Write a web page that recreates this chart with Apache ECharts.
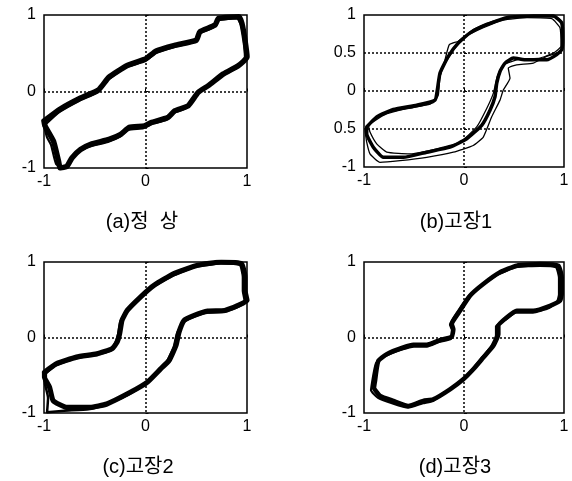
<!DOCTYPE html>
<html>
<head>
<meta charset="utf-8">
<title>hysteresis</title>
<script src="https://cdn.jsdelivr.net/npm/echarts@6/dist/echarts.min.js"></script>
<style>
html, body { margin: 0; padding: 0; background: #fff; }
#chart { width: 572px; height: 481px; }
</style>
</head>
<body>
<div id="chart"></div>
<script>
// 각 그림의 제목
var panelTitles = ['(a)정  상', '(b)고장1', '(c)고장2', '(d)고장3'];
var xTickLabels = ['-1', '0', '1'];
var yTickLabels = ['-1', '0', '1'];
var yTickLabelsB = ['-1', '0.5', '0', '0.5', '1'];

// (a) 정상
var loopA1 = [[-1,-0.385],[-0.84,-0.23],[-0.64,-0.086],[-0.46,0.024],[-0.36,0.187],[-0.18,0.34],[0.005,0.43],[0.105,0.53],[0.287,0.604],[0.5,0.67],[0.535,0.78],[0.685,0.868],[0.72,0.956],[0.92,0.978],[0.95,0.89],[0.98,0.67],[1,0.45],
	[0.917,0.34],[0.768,0.23],[0.619,0.077],[0.519,-0.011],[0.42,-0.187],[0.287,-0.253],[0.22,-0.34],[0.055,-0.407],[-0.01,-0.45],[-0.16,-0.47],[-0.244,-0.56],[-0.36,-0.626],[-0.54,-0.69],[-0.64,-0.758],[-0.725,-0.868],[-0.774,-0.978],[-0.84,-1],[-0.857,-0.91],[-0.907,-0.648],[-0.99,-0.45],[-1,-0.385]];
var loopA2 = [[-1,-0.45],[-0.85,-0.27],[-0.65,-0.12],[-0.47,-0.01],[-0.37,0.15],[-0.2,0.31],[0,0.4],[0.1,0.5],[0.28,0.58],[0.48,0.65],[0.52,0.75],[0.67,0.84],[0.72,0.93],[0.9,0.96],[0.94,0.87],[0.97,0.65],[0.98,0.42],
	[0.9,0.31],[0.75,0.2],[0.6,0.05],[0.5,-0.04],[0.41,-0.21],[0.28,-0.28],[0.21,-0.37],[0.05,-0.43],[-0.02,-0.48],[-0.17,-0.5],[-0.25,-0.59],[-0.37,-0.66],[-0.55,-0.72],[-0.66,-0.79],[-0.74,-0.9],[-0.79,-1],[-0.88,-0.95],[-0.93,-0.7],[-0.97,-0.6],[-1,-0.45]];

// (b) 고장1
var loopB1 = [[-0.973,-0.473],[-0.873,-0.34],[-0.707,-0.243],[-0.473,-0.186],[-0.29,-0.12],[-0.267,0.013],[-0.24,0.235],[-0.157,0.456],[-0.057,0.633],[0.06,0.765],[0.227,0.876],[0.427,0.965],[0.693,0.987],[0.893,0.987],[0.977,0.898],[0.987,0.677],[0.977,0.544],
	[0.927,0.478],[0.827,0.41],[0.627,0.41],[0.493,0.434],[0.41,0.367],[0.36,0.257],[0.327,0.1],[0.31,-0.075],[0.26,-0.252],[0.177,-0.451],[0.027,-0.628],[-0.14,-0.739],[-0.373,-0.805],[-0.607,-0.872],[-0.807,-0.872],[-0.907,-0.739],[-0.973,-0.562],[-0.973,-0.473]];
var loopB2 = [[-0.99,-0.52],[-0.907,-0.385],[-0.74,-0.274],[-0.507,-0.217],[-0.307,-0.155],[-0.257,-0.053],[-0.24,0.19],[-0.19,0.41],[-0.147,0.61],[-0.057,0.655],[0.093,0.81],[0.293,0.92],[0.527,0.987],[0.827,0.996],[0.96,0.94],[0.993,0.72],[0.96,0.52],
	[0.827,0.456],[0.693,0.367],[0.527,0.345],[0.443,0.3],[0.46,0.168],[0.393,0.013],[0.36,-0.12],[0.277,-0.34],[0.193,-0.606],[0.093,-0.717],[-0.107,-0.805],[-0.373,-0.872],[-0.64,-0.916],[-0.84,-0.938],[-0.94,-0.827],[-0.973,-0.673],[-0.99,-0.52]];
var loopB3 = [[-0.957,-0.45],[-0.807,-0.32],[-0.573,-0.23],[-0.34,-0.173],[-0.28,-0.084],[-0.253,0.124],[-0.207,0.323],[-0.09,0.566],[0.027,0.72],[0.193,0.832],[0.393,0.934],[0.627,0.965],[0.877,0.951],[0.96,0.832],[0.97,0.588],
	[0.893,0.5],[0.76,0.434],[0.56,0.42],[0.393,0.345],[0.333,0.19],[0.293,-0.031],[0.227,-0.23],[0.127,-0.473],[-0.04,-0.673],[-0.273,-0.761],[-0.54,-0.827],[-0.773,-0.805],[-0.873,-0.695],[-0.94,-0.54],[-0.957,-0.45]];

// (c) 고장2
var loopC1 = [[-0.995,-0.46],[-0.88,-0.35],[-0.68,-0.26],[-0.48,-0.217],[-0.33,-0.15],[-0.28,-0.062],[-0.255,0.049],[-0.232,0.226],[-0.18,0.358],[-0.05,0.535],[0.083,0.69],[0.28,0.845],[0.514,0.956],[0.746,1],[0.945,0.978],[0.98,0.8],[0.98,0.624],[1,0.49],
	[0.912,0.425],[0.78,0.358],[0.613,0.35],[0.48,0.292],[0.38,0.226],[0.33,0.071],[0.3,-0.106],[0.232,-0.305],[0.149,-0.416],[0.017,-0.593],[-0.149,-0.726],[-0.381,-0.88],[-0.547,-0.925],[-0.78,-0.925],[-0.91,-0.836],[-0.945,-0.66],[-0.995,-0.527],[-0.995,-0.46]];
var loopC2 = [[-1,-0.5],[-0.9,-0.38],[-0.7,-0.28],[-0.5,-0.23],[-0.34,-0.17],[-0.3,-0.08],[-0.27,0.04],[-0.25,0.2],[-0.2,0.33],[-0.07,0.51],[0.07,0.67],[0.27,0.82],[0.5,0.94],[0.74,0.98],[0.93,0.96],[0.96,0.8],[0.96,0.62],[0.98,0.47],
	[0.9,0.4],[0.77,0.34],[0.6,0.33],[0.47,0.27],[0.37,0.2],[0.31,0.05],[0.28,-0.12],[0.21,-0.32],[0.13,-0.44],[0,-0.61],[-0.16,-0.75],[-0.4,-0.9],[-0.56,-0.95],[-0.8,-0.97],[-0.97,-0.99],[-0.96,-0.8],[-0.99,-0.62],[-1,-0.5]];

// (d) 고장3
var loopD1 = [[-0.89,-0.575],[-0.857,-0.31],[-0.773,-0.221],[-0.607,-0.133],[-0.507,-0.097],[-0.373,-0.097],[-0.24,-0.035],[-0.123,0.009],[-0.107,0.11],[-0.123,0.177],[-0.04,0.354],[0.06,0.553],[0.193,0.708],[0.36,0.863],[0.527,0.951],[0.76,0.973],[0.943,0.951],[0.977,0.796],[0.977,0.575],[0.96,0.487],
	[0.86,0.42],[0.693,0.354],[0.527,0.354],[0.427,0.265],[0.343,0.155],[0.343,0.044],[0.293,-0.11],[0.193,-0.265],[0.093,-0.42],[-0.007,-0.553],[-0.14,-0.686],[-0.307,-0.819],[-0.407,-0.84],[-0.557,-0.907],[-0.707,-0.84],[-0.84,-0.774],[-0.9,-0.664],[-0.89,-0.575]];
var loopD2 = [[-0.92,-0.6],[-0.88,-0.34],[-0.79,-0.25],[-0.62,-0.16],[-0.5,-0.12],[-0.37,-0.12],[-0.25,-0.06],[-0.13,-0.02],[-0.12,0.1],[-0.14,0.17],[-0.06,0.35],[0.04,0.54],[0.18,0.69],[0.35,0.84],[0.52,0.93],[0.76,0.95],[0.92,0.93],[0.95,0.79],[0.95,0.57],[0.93,0.47],
	[0.85,0.39],[0.69,0.33],[0.52,0.33],[0.42,0.24],[0.32,0.15],[0.32,0.03],[0.27,-0.12],[0.17,-0.28],[0.07,-0.44],[-0.03,-0.57],[-0.16,-0.7],[-0.31,-0.84],[-0.41,-0.87],[-0.56,-0.93],[-0.72,-0.87],[-0.86,-0.8],[-0.93,-0.7],[-0.92,-0.6]];

// [데이터, 선 굵기]
var panelLoops = [
	[[loopA1, 5.5], [loopA2, 2.2]],
	[[loopB1, 3.5], [loopB2, 1.3], [loopB3, 1.3]],
	[[loopC1, 5.2], [loopC2, 2.5]],
	[[loopD1, 4.6], [loopD2, 2.2]]
];

var gridPos = [
	{left: 44, top: 15, width: 203, height: 153},
	{left: 364, top: 15, width: 200, height: 152},
	{left: 44, top: 262, width: 203, height: 151},
	{left: 364, top: 262, width: 200, height: 151}
];
var titlePos = [[142, 222], [456, 222], [138, 467], [455, 467]];

// 간단한 extend
function extendObj(a, b) { for (var k in b) a[k] = b[k]; return a; }

var labelFont = {color: '#000', fontSize: 16, fontFamily: '"Liberation Sans", Arial, sans-serif'};
var dotted = {show: true, showMinLine: false, showMaxLine: false, lineStyle: {color: '#000', type: [2, 2], width: 1.5}};

var grids = [], xAxes = [], yAxes = [], series = [], graphics = [];
for (var i = 0; i < 4; i++) {
	var g = gridPos[i];
	grids.push({left: g.left, top: g.top, width: g.width, height: g.height, show: true, borderColor: '#000', borderWidth: 1.5, backgroundColor: 'transparent'});
	xAxes.push({
		type: 'value', gridIndex: i, min: -1, max: 1, interval: 1,
		axisLine: {show: false},
		axisTick: {show: true, inside: true, length: 3, lineStyle: {color: '#000'}},
		axisLabel: extendObj({margin: 6, formatter: function (v) { return xTickLabels[Math.round(v + 1)]; }}, labelFont),
		splitLine: dotted
	});
	var isB = (i === 1);
	yAxes.push({
		type: 'value', gridIndex: i, min: -1, max: 1, interval: isB ? 0.5 : 1,
		axisLine: {show: false},
		axisTick: {show: true, inside: true, length: 3, lineStyle: {color: '#000'}},
		axisLabel: extendObj({margin: 8, formatter: (function (labels, step) {
			return function (v) { return labels[Math.round((v + 1) / step)]; };
		})(isB ? yTickLabelsB : yTickLabels, isB ? 0.5 : 1)}, labelFont),
		splitLine: dotted
	});
	panelLoops[i].forEach(function (item) {
		series.push({
			type: 'line', xAxisIndex: i, yAxisIndex: i, data: item[0],
			showSymbol: false, smooth: 0.15, silent: true,
			lineStyle: {color: '#000', width: item[1], join: 'round', cap: 'round'}
		});
	});
	graphics.push({
		type: 'text', x: titlePos[i][0], y: titlePos[i][1],
		style: {text: panelTitles[i], fill: '#000', fontSize: 20, fontFamily: '"Liberation Sans", "Noto Sans CJK KR", sans-serif', textAlign: 'center', textVerticalAlign: 'middle'}
	});
}

var chart = echarts.init(document.getElementById('chart'));
chart.setOption({
	animation: false,
	grid: grids,
	xAxis: xAxes,
	yAxis: yAxes,
	series: series,
	graphic: graphics
});
</script>
</body>
</html>
